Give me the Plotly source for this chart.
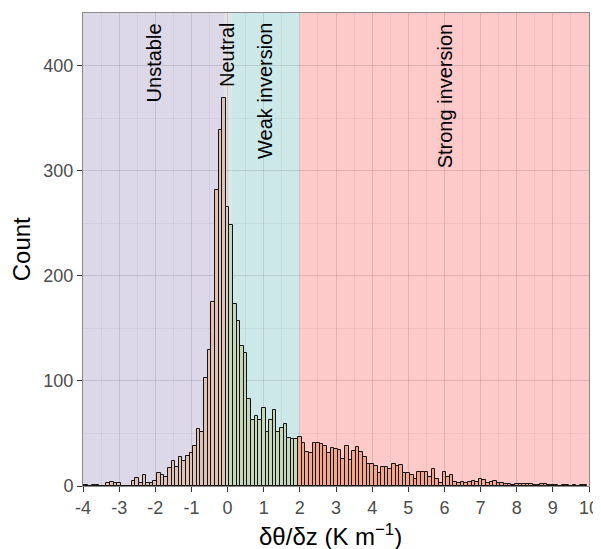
import plotly.graph_objects as go

# ---- data (bin centres, width 0.1) ----
bin_start = -4.0
bin_width = 0.1
counts = [
    # -4.0 .. -3.1
    1, 1, 0, 1, 1, 0, 0, 3, 4, 3,
    # -3.0 .. -2.1
    3, 0, 0, 0, 5, 8, 3, 10, 3, 3,
    # -2.0 .. -1.1
    5, 12, 10, 9, 17, 24, 18, 28, 24, 29,
    # -1.0 .. -0.1
    31, 38, 54, 51, 103, 129, 175, 282, 339, 369,
    # 0.0 .. 0.9
    265, 248, 173, 157, 133, 127, 83, 63, 67, 63,
    # 1.0 .. 1.9
    74, 51, 63, 72, 51, 55, 59, 46, 45, 45,
    # 2.0 .. 2.9
    47, 41, 32, 31, 41, 41, 40, 38, 31, 36,
    # 3.0 .. 3.9
    35, 34, 26, 38, 25, 33, 37, 32, 28, 21,
    # 4.0 .. 4.9
    21, 19, 12, 18, 18, 16, 21, 19, 20, 12,
    # 5.0 .. 5.9
    12, 10, 7, 13, 13, 13, 9, 16, 7, 3,
    # 6.0 .. 6.9
    13, 9, 10, 4, 3, 4, 3, 4, 5, 4,
    # 7.0 .. 7.9
    7, 6, 3, 4, 5, 3, 3, 2, 2, 1,
    # 8.0 .. 8.9
    2, 2, 2, 2, 2, 1, 1, 2, 2, 1,
    # 9.0 .. 9.9
    1, 1, 0, 1, 1, 0, 1, 0, 1, 1,
]
centers = [round(bin_start + i * bin_width, 2) for i in range(len(counts))]

regions = ["Unstable", "Neutral", "Weak inversion", "Strong inversion"]
region_lo = [-4.0, -0.1, 0.1, 2.0]
region_hi = [-0.1, 0.1, 2.0, 10.0]
region_bg = ["#dcd8e8", "#e3e3e3", "#cde8e8", "#fdc9c9"]
bar_fill = ["#dfc2b5", "#d6cbc6", "#c6d6bb", "#f4a68a"]

x_ticks = list(range(-4, 11))
x_ticktext = [str(v) for v in x_ticks]
y_ticks = [0, 100, 200, 300, 400]

x_title = "δθ/δz (K m<sup>−1</sup>)"
y_title = "Count"

FONT = "Liberation Sans, Arial, sans-serif"


def region_index(c):
    if c < -0.05:
        return 0
    if c < 0.05:
        return 1
    if c < 1.95:
        return 2
    return 3


colors = [bar_fill[region_index(c)] for c in centers]

fig = go.Figure()
fig.add_trace(go.Bar(
    x=centers, y=counts, width=bin_width,
    marker=dict(color=colors, line=dict(color="#141414", width=1.0)),
    hoverinfo="x+y", showlegend=False,
))

shapes = []
for lo, hi, col in zip(region_lo, region_hi, region_bg):
    shapes.append(dict(type="rect", xref="x", yref="paper", x0=lo, x1=hi,
                       y0=0, y1=1, fillcolor=col, line=dict(width=0),
                       layer="below"))

annotations = []
for name, lo, hi in zip(regions, region_lo, region_hi):
    annotations.append(dict(
        x=(lo + hi) / 2, y=442, xref="x", yref="y", text=name,
        textangle=-90, showarrow=False, xanchor="center", yanchor="top",
        font=dict(family=FONT, size=20, color="#000000"),
    ))

# axis titles as annotations (fixed positions)
annotations.append(dict(
    x=0.49, y=-0.104, xref="paper", yref="paper", text=x_title,
    showarrow=False, xanchor="center", yanchor="middle",
    font=dict(family=FONT, size=24, color="#000000"),
))
annotations.append(dict(
    x=-0.121, y=0.5, xref="paper", yref="paper", text=y_title,
    textangle=-90, showarrow=False, xanchor="center", yanchor="middle",
    font=dict(family=FONT, size=24, color="#000000"),
))

# the page body adds an 8px offset, so the figure is 8px smaller
fig.update_layout(
    width=593, height=541,
    margin=dict(l=75, r=12, t=5, b=63, autoexpand=False),
    paper_bgcolor="white", plot_bgcolor="white",
    bargap=0,
    shapes=shapes, annotations=annotations,
    font=dict(family=FONT),
)
fig.update_xaxes(
    range=[-4, 10], tickvals=x_ticks, ticktext=x_ticktext,
    automargin=False,
    showgrid=True, gridcolor="rgba(0,0,0,0.07)", gridwidth=1.2,
    minor=dict(dtick=0.5, tick0=0, showgrid=True,
               gridcolor="rgba(0,0,0,0.045)", gridwidth=0.7),
    zeroline=False, showline=True, linecolor="#888888", linewidth=1,
    mirror=True, ticks="outside", ticklen=5, tickcolor="#333333",
    tickfont=dict(size=18, color="#4d4d4d"),
)
fig.update_yaxes(
    range=[0, 450], tickvals=y_ticks,
    automargin=False,
    showgrid=True, gridcolor="rgba(0,0,0,0.07)", gridwidth=1.2,
    minor=dict(dtick=50, tick0=0, showgrid=True,
               gridcolor="rgba(0,0,0,0.045)", gridwidth=0.7),
    zeroline=False, showline=True, linecolor="#888888", linewidth=1,
    mirror=True, ticks="outside", ticklen=5, tickcolor="#333333",
    tickfont=dict(size=18, color="#4d4d4d"),
)

fig.write_html("out.html")
